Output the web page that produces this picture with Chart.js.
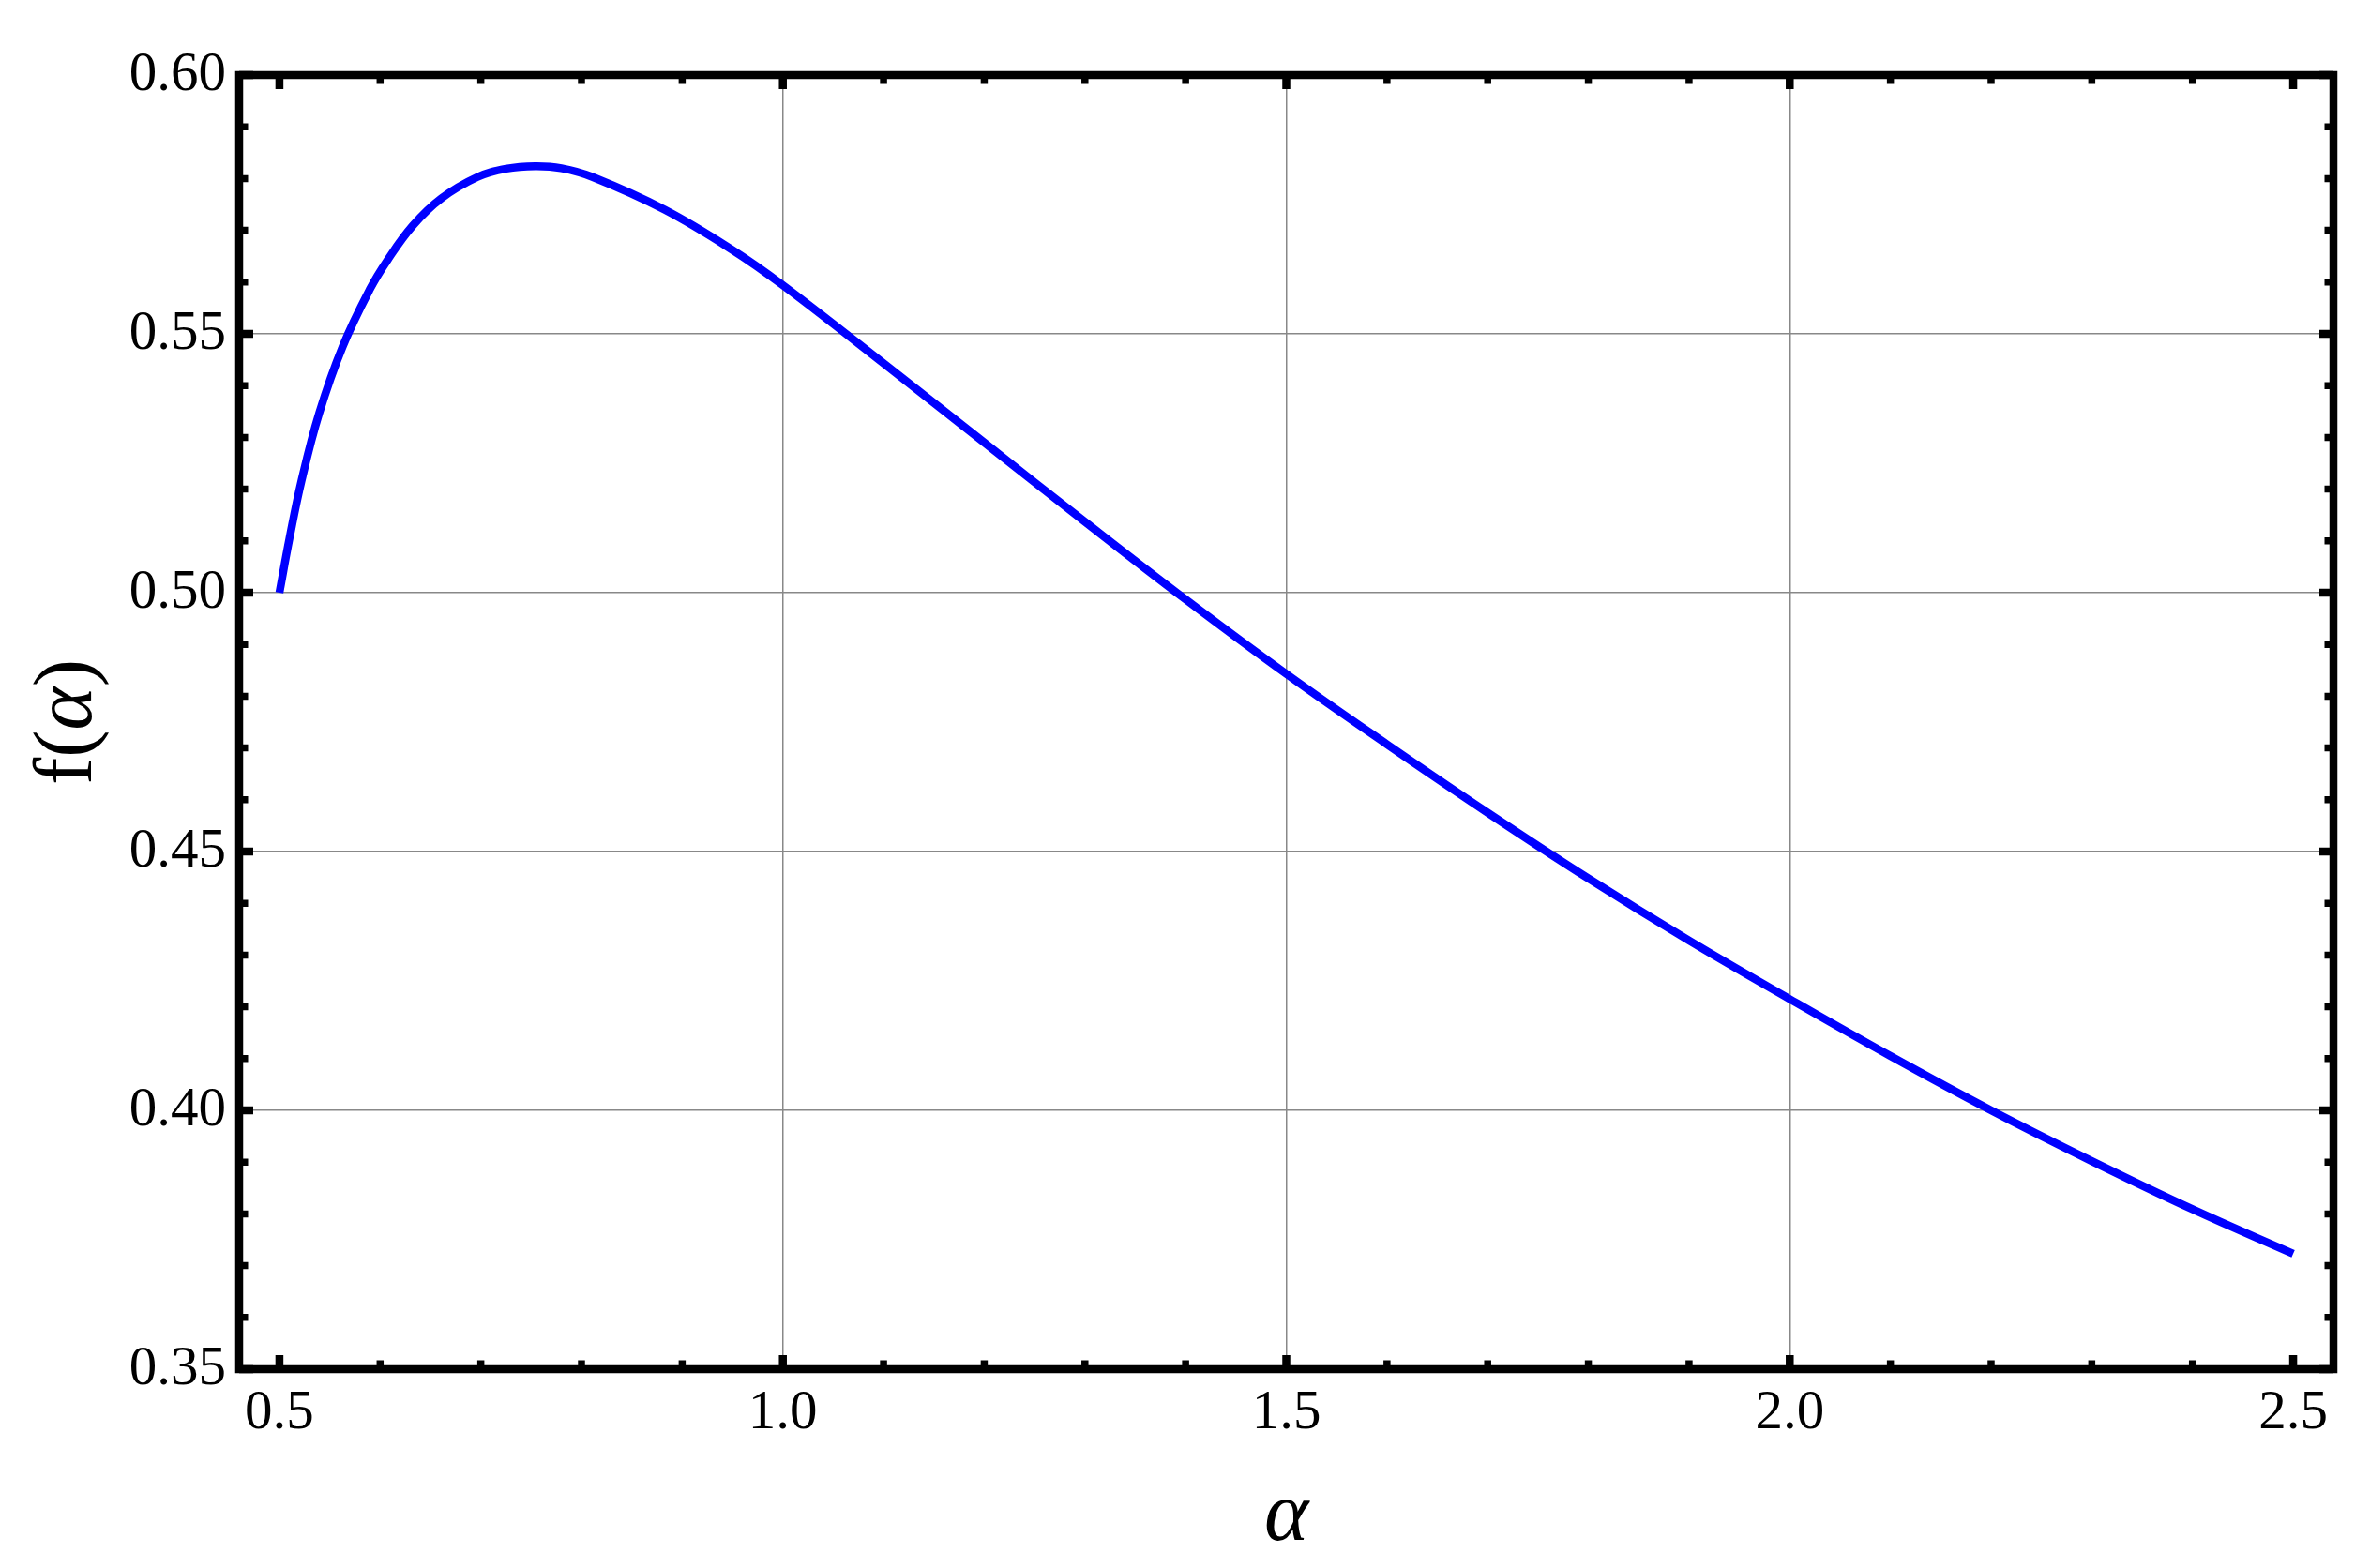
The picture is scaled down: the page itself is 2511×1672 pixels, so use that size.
<!DOCTYPE html>
<html>
<head>
<meta charset="utf-8">
<script src="https://cdn.jsdelivr.net/npm/chart.js@4.4.1/dist/chart.umd.min.js"></script>
<style>
  html, body { margin: 0; padding: 0; background: #fff; }
  #wrap { width: 2511px; height: 1672px; }
</style>
</head>
<body>
<div id="wrap"><canvas id="fCanvas" width="2511" height="1672"></canvas></div>
<script>
// f(alpha)
const alphaVals = [0.500, 0.510, 0.522, 0.5395, 0.5627, 0.5895, 0.6075, 0.6324, 0.661, 0.6967, 0.725, 0.754, 0.78, 0.811, 0.8825, 0.95, 1.00,
                   1.10, 1.20, 1.30, 1.40, 1.50, 1.60, 1.70, 1.80, 1.90, 2.00, 2.10, 2.20, 2.30, 2.40, 2.50];
const fVals     = [0.5000, 0.5105, 0.5217, 0.5347, 0.5475, 0.5585, 0.5643, 0.5709, 0.5762, 0.5803, 0.5819, 0.5824, 0.5820, 0.5803, 0.5740, 0.5662, 0.5594,
                   0.5443, 0.5290, 0.5137, 0.4987, 0.4843, 0.4707, 0.4575, 0.4448, 0.4328, 0.4215, 0.4105, 0.4000, 0.3902, 0.3809, 0.3723];

const xMajor = [0.5, 1.0, 1.5, 2.0, 2.5];
const yMajor = [0.35, 0.40, 0.45, 0.50, 0.55, 0.60];
const xMinor = [0.6, 0.7, 0.8, 0.9, 1.1, 1.2, 1.3, 1.4, 1.6, 1.7, 1.8, 1.9, 2.1, 2.2, 2.3, 2.4];
const yMinor = [0.36, 0.37, 0.38, 0.39, 0.41, 0.42, 0.43, 0.44, 0.46, 0.47, 0.48, 0.49,
                0.51, 0.52, 0.53, 0.54, 0.56, 0.57, 0.58, 0.59];
const xGridAt = [1.0, 1.5, 2.0];
const yGridAt = [0.40, 0.45, 0.50, 0.55];

const SERIF = '"Liberation Serif", "Times New Roman", serif';

/* ── frame + inward ticks on all four sides ───────── */
const framePlugin = {
  id: 'frame',
  afterDatasetsDraw(chart) {
    const { ctx, chartArea: a, scales: { x, y } } = chart;
    ctx.save();
    ctx.strokeStyle = '#000';
    ctx.lineCap = 'butt';

    const tickX = (vals, len, w) => {
      ctx.lineWidth = w;
      ctx.beginPath();
      vals.forEach(v => {
        const px = x.getPixelForValue(v);
        ctx.moveTo(px, a.bottom); ctx.lineTo(px, a.bottom - len);
        ctx.moveTo(px, a.top);    ctx.lineTo(px, a.top + len);
      });
      ctx.stroke();
    };
    const tickY = (vals, len, w) => {
      ctx.lineWidth = w;
      ctx.beginPath();
      vals.forEach(v => {
        const py = y.getPixelForValue(v);
        ctx.moveTo(a.left, py);  ctx.lineTo(a.left + len, py);
        ctx.moveTo(a.right, py); ctx.lineTo(a.right - len, py);
      });
      ctx.stroke();
    };
    tickX(xMajor, 15, 8.5);
    tickX(xMinor, 9.5, 7.5);
    tickY(yMajor, 15, 8.5);
    tickY(yMinor, 9.5, 7.5);

    ctx.lineWidth = 8.5;
    ctx.strokeRect(a.left, a.top, a.right - a.left, a.bottom - a.top);
    ctx.restore();
  },
  afterDraw(chart) {
    // y title: upright "f( )" with italic alpha
    const { ctx, chartArea: a } = chart;
    const parts = [
      { t: 'f(', f: `normal 88px ${SERIF}` },
      { t: 'α',  f: `italic 88px ${SERIF}` },
      { t: ')',  f: `normal 88px ${SERIF}` },
    ];
    ctx.save();
    let total = 0;
    parts.forEach(p => { ctx.font = p.f; p.w = ctx.measureText(p.t).width; total += p.w; });
    ctx.translate(74, (a.top + a.bottom) / 2);
    ctx.rotate(-Math.PI / 2);
    ctx.fillStyle = '#000';
    ctx.textBaseline = 'middle';
    ctx.textAlign = 'left';
    let cx = -total / 2;
    parts.forEach(p => { ctx.font = p.f; ctx.fillText(p.t, cx, 0); cx += p.w; });
    ctx.restore();
  },
};

const gridColor = (list) => (c) =>
  list.some(v => Math.abs(c.tick.value - v) < 1e-6) ? '#888888' : 'rgba(0,0,0,0)';

new Chart(document.getElementById('fCanvas'), {
  type: 'line',
  plugins: [framePlugin],
  data: {
    datasets: [{
      data: alphaVals.map((a, i) => ({ x: a, y: fVals[i] })),
      borderColor: '#0000ff',
      borderWidth: 8.5,
      pointRadius: 0,
      fill: false,
      tension: 0.4,
    }],
  },
  options: {
    responsive: false,
    animation: false,
    devicePixelRatio: 1,
    layout: { padding: { top: 80, right: 23, left: 0, bottom: 0 } },
    plugins: { legend: { display: false }, tooltip: { enabled: false } },
    scales: {
      x: {
        type: 'linear',
        min: 0.46, max: 2.54,
        afterBuildTicks: s => { s.ticks = xMajor.map(v => ({ value: v })); },
        afterFit: s => { s.height = 212; },
        grid: { color: gridColor(xGridAt), lineWidth: 1.5, drawTicks: false },
        border: { display: false },
        ticks: {
          color: '#000', padding: 12, maxRotation: 0, autoSkip: false,
          font: { family: SERIF, size: 59 },
          callback: v => v.toFixed(1),
        },
        title: {
          display: true, text: 'α', color: '#000', padding: 0,
          font: { family: SERIF, size: 90, style: 'italic' },
        },
      },
      y: {
        type: 'linear',
        min: 0.35, max: 0.60,
        afterBuildTicks: s => { s.ticks = yMajor.map(v => ({ value: v })); },
        afterFit: s => { s.width = 255; },
        grid: { color: gridColor(yGridAt), lineWidth: 1.5, drawTicks: false },
        border: { display: false },
        ticks: {
          color: '#000', padding: 14, autoSkip: false,
          font: { family: SERIF, size: 59 },
          callback: v => v.toFixed(2),
        },
      },
    },
  },
});
</script>
</body>
</html>
